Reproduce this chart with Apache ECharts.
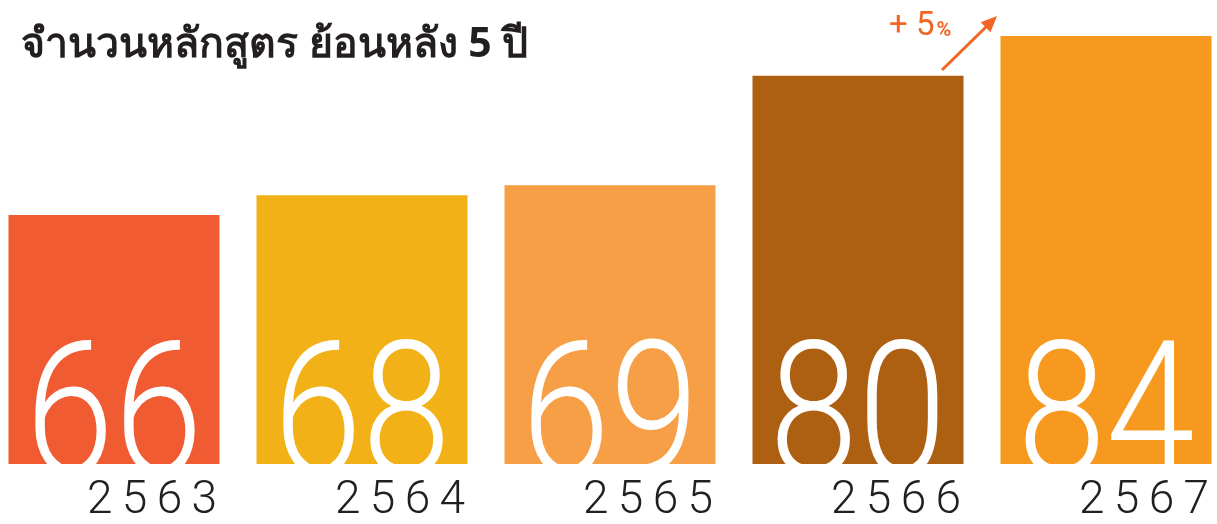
<!DOCTYPE html>
<html>
<head>
<meta charset="utf-8">
<script src="https://cdn.jsdelivr.net/npm/echarts@6/dist/echarts.min.js"></script>
<style>
  html, body { margin: 0; padding: 0; background: #fff; }
  #main { width: 1217px; height: 524px; }
</style>
</head>
<body>
<div id="main"></div>
<script>
// ข้อมูล
var years = ['2563', '2564', '2565', '2566', '2567'];
var courses = [66, 68, 69, 80, 84];
var barColors = ['#F15B31', '#F2B217', '#F79F46', '#AE6012', '#F7981F'];
var growthText = '+ 5';

var yMin = 41;
var chart = echarts.init(document.getElementById('main'));

chart.setOption({
  backgroundColor: '#fff',
  animation: false,
  title: {
    text: 'จำนวนหลักสูตร ย้อนหลัง 5 ปี',
    left: 16,
    top: 20,
    textStyle: {
      fontSize: 41,
      fontWeight: 'bold',
      color: '#231f20',
      fontFamily: 'Noto Sans, sans-serif'
    }
  },
  grid: { left: -10, width: 1240, top: 16, bottom: 60, outerBoundsMode: 'none', containLabel: false },
  xAxis: {
    type: 'category',
    data: years,
    z: 10,
    axisLine: { show: false },
    axisTick: { show: false },
    axisLabel: {
      interval: 0,
      margin: 14,
      fontSize: 46,
      fontWeight: 300,
      fontFamily: 'Roboto',
      color: '#231f20',
      padding: [0, 0, 0, 76],
      formatter: function (v) { return v.split('').join('\u200A\u200A'); }
    }
  },
  yAxis: { type: 'value', min: yMin, max: 86, show: false, splitLine: { show: false } },
  series: [
    {
      type: 'bar',
      barWidth: 211,
      data: courses.map(function (v, i) {
        return { value: v, itemStyle: { color: barColors[i] } };
      })
    },
    {
      // ตัวเลขขนาดใหญ่ในแท่ง
      type: 'custom',
      z: 5,
      data: courses.map(function (v, i) { return [i, v]; }),
      renderItem: function (params, api) {
        var base = api.coord([api.value(0), yMin]);
        return {
          type: 'text',
          x: base[0],
          y: base[1] + 57,
          scaleX: 0.85,
          style: {
            text: String(api.value(1)),
            fill: '#fff',
            fontSize: 188,
            fontWeight: 300,
            fontFamily: 'Roboto',
            align: 'center',
            verticalAlign: 'bottom'
          }
        };
      }
    }
  ],
  graphic: [
    {
      type: 'text',
      left: 889,
      top: 10,
      style: {
        text: growthText + '{p|%}',
        fill: '#F26522',
        fontSize: 33,
        fontFamily: 'Roboto',
        rich: { p: { fontSize: 20, fill: '#F26522', fontFamily: 'Roboto', fontWeight: 'bold', padding: [9, 0, 0, 2] } }
      }
    },
    {
      type: 'line',
      shape: { x1: 942, y1: 70, x2: 987, y2: 26 },
      style: { stroke: '#F26522', lineWidth: 3 }
    },
    {
      type: 'polygon',
      shape: { points: [[997, 16], [990.5, 32.2], [980.7, 22.2]] },
      style: { fill: '#F26522' }
    }
  ]
});
</script>
</body>
</html>
